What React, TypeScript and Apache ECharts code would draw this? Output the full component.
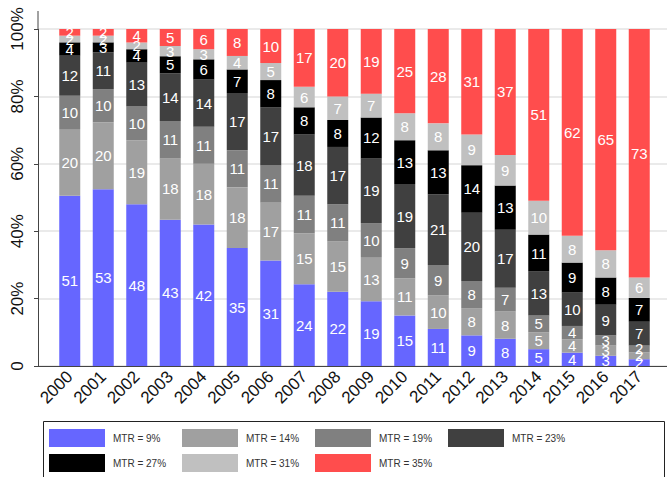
import React, { useEffect, useRef } from "react";
import * as echarts from "echarts";

const years = ["2000","2001","2002","2003","2004","2005","2006","2007","2008","2009","2010","2011","2012","2013","2014","2015","2016","2017"];
const mtr9 = [51,53,48,43,42,35,31,24,22,19,15,11,9,8,5,4,3,2];
const mtr14 = [20,20,19,18,18,18,17,15,15,13,11,10,8,8,5,4,3,2];
const mtr19 = [10,10,10,11,11,11,11,11,11,10,9,9,8,7,5,4,3,2];
const mtr23 = [12,11,13,14,14,17,17,18,17,19,19,21,20,17,13,10,9,7];
const mtr27 = [4,3,4,5,6,7,8,8,8,12,13,13,14,13,11,9,8,7];
const mtr31 = [2,2,2,3,3,4,5,6,7,7,8,8,9,9,10,8,8,6];
const mtr35 = [2,2,4,5,6,8,10,17,20,19,25,28,31,37,51,62,65,73];
const seriesNames = ["MTR = 9%","MTR = 14%","MTR = 19%","MTR = 23%","MTR = 27%","MTR = 31%","MTR = 35%"];

const seriesValues = [mtr9, mtr14, mtr19, mtr23, mtr27, mtr31, mtr35];
const colors = ["#6666ff","#a0a0a0","#808080","#404040","#000000","#c0c0c0","#ff4d4d"];

const FONT = "'Liberation Sans', Arial, Helvetica, sans-serif";

export default function App() {
  const ref = useRef<HTMLDivElement>(null);
  useEffect(() => {
    if (!ref.current) return;
    const chart = echarts.init(ref.current, undefined, { renderer: "svg" });
    const totals = years.map((_, i) => seriesValues.reduce((s, arr) => s + arr[i], 0));
    const series = seriesValues.map((arr, si) => ({
      name: seriesNames[si],
      type: "bar",
      stack: "total",
      barWidth: 21,
      xAxisIndex: 0,
      yAxisIndex: 0,
      itemStyle: { color: colors[si] },
      label: {
        show: true,
        position: "inside",
        color: "#ffffff",
        fontSize: 15,
        fontFamily: FONT,
        formatter: (p: any) => String(arr[p.dataIndex]),
      },
      data: arr.map((v, i) => (v / totals[i]) * 100),
    }));
    const legendCols = [
      [seriesNames[0], seriesNames[4]],
      [seriesNames[1], seriesNames[5]],
      [seriesNames[2], seriesNames[6]],
      [seriesNames[3]],
    ];
    chart.setOption({
      animation: false,
      grid: [
        { left: 53, right: 11, top: 29, bottom: 111, containLabel: false },
        { left: 38, right: 0, top: 29, bottom: 111, containLabel: false },
      ],
      xAxis: [
        {
          type: "category",
          gridIndex: 0,
          data: years,
          axisLine: { show: false },
          axisTick: { show: false },
          axisLabel: {
            interval: 0,
            rotate: 45,
            margin: 8,
            fontSize: 17,
            color: "#111",
            fontFamily: FONT,
          },
        },
        {
          type: "value",
          gridIndex: 1,
          min: 0,
          max: 1,
          axisLine: { show: true, onZero: false, lineStyle: { color: "#444", width: 1 } },
          axisTick: { show: false },
          axisLabel: { show: false },
          splitLine: { show: false },
        },
      ],
      yAxis: [
        {
          type: "value",
          gridIndex: 0,
          min: 0,
          max: 100,
          show: false,
        },
        {
          type: "value",
          gridIndex: 1,
          min: 0,
          max: 100,
          interval: 20,
          axisLine: { show: true, onZero: false, lineStyle: { color: "#444", width: 1 } },
          axisTick: { show: true, length: 4, lineStyle: { color: "#444" } },
          splitLine: { show: true, lineStyle: { color: "#e3e3e3", width: 1.5 } },
          axisLabel: {
            rotate: 90,
            margin: 12,
            fontSize: 17,
            color: "#111",
            fontFamily: FONT,
            formatter: (v: number) => (v === 0 ? "0" : v + "%"),
          },
        },
      ],
      legend: legendCols.map((names, c) => ({
        orient: "vertical",
        left: 49 + c * 133,
        top: 429,
        padding: 0,
        itemWidth: 56,
        itemHeight: 18,
        itemGap: 7,
        icon: "rect",
        selectedMode: false,
        data: names,
        textStyle: { fontSize: 10, color: "#333", fontFamily: FONT, padding: [0, 0, 0, 3] },
      })),
      graphic: [
        { type: "line", shape: { x1: 38, y1: 11, x2: 38, y2: 29 }, style: { stroke: "#444", lineWidth: 1 } },
        { type: "rect", shape: { x: 43.5, y: 421.5, width: 621, height: 70 }, style: { fill: "none", stroke: "#222", lineWidth: 1 } },
      ],
      series,
    });
    return () => chart.dispose();
  }, []);
  return <div ref={ref} style={{ position: "absolute", left: 0, top: 0, width: 667, height: 477 }} />;
}
